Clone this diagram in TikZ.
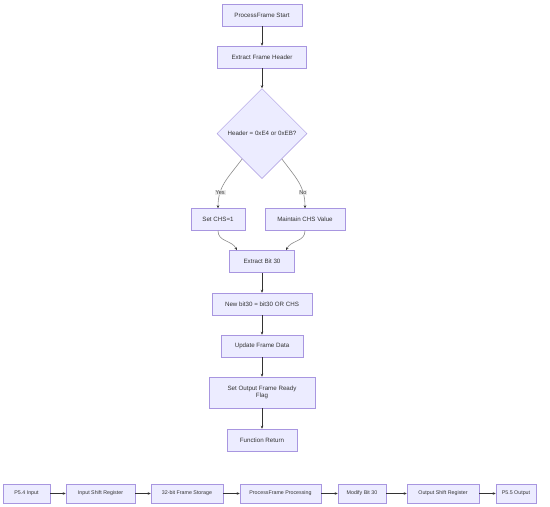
\documentclass[tikz,border=0pt]{standalone}
\usepackage{fontspec}
\setmainfont{Liberation Sans}
\usetikzlibrary{shapes.geometric,arrows.meta}
\definecolor{boxfill}{HTML}{ECECFF}
\definecolor{boxdraw}{HTML}{A896E0}
\definecolor{edge}{HTML}{333333}
\definecolor{lblfill}{HTML}{E8E8E8}
\begin{document}
\begin{tikzpicture}[x=1pt,y=-1pt,
  box/.style={draw=boxdraw,fill=boxfill,line width=0.5pt,inner sep=0pt,minimum height=22pt,font=\fontsize{6.2}{7.5}\selectfont,text=black!80,align=center},
  sbox/.style={box,minimum height=19pt,font=\fontsize{5.3}{6.5}\selectfont},
  dec/.style={diamond,draw=boxdraw,fill=boxfill,line width=0.5pt,inner sep=0pt,minimum width=90pt,minimum height=90pt,font=\fontsize{6.2}{7.5}\selectfont,text=black!80},
  arr/.style={draw=edge,line width=0.5pt,-{Stealth[length=3pt,width=2.6pt]}},
  garr/.style={draw=black!45,line width=0.6pt,-{Stealth[length=3pt,width=2.6pt,color=edge]}},
  lbl/.style={fill=lblfill,fill opacity=0.9,text opacity=1,inner sep=0.8pt,font=\fontsize{5.6}{6.5}\selectfont,text=black!75}]
\useasboundingbox (0,0) rectangle (550,507);
\fill[white] (0,0) rectangle (550,507);
% main flow
\node[box,minimum width=80pt] (s) at (262,15) {ProcessFrame Start};
\node[box,minimum width=89pt] (h) at (262,57) {Extract Frame Header};
\node[dec] (d) at (262,133.5) {Header = 0xE4 or 0xEB?};
\node[box,minimum width=54pt] (c1) at (218,219.5) {Set CHS=1};
\node[box,minimum width=80pt] (c0) at (305,219.5) {Maintain CHS Value};
\node[box,minimum width=65pt] (eb) at (262,261.5) {Extract Bit 30};
\node[box,minimum width=100pt] (nb) at (262,304) {New bit30 = bit30 OR CHS};
\node[box,minimum width=82pt] (uf) at (262,346) {Update Frame Data};
\node[box,minimum width=106pt,minimum height=31pt] (so) at (262,392.5) {Set Output Frame Ready\\Flag};
\node[box,minimum width=70pt] (fr) at (262,440) {Function Return};
% edges
\draw[arr] (s) -- (h);
\draw[arr] (h) -- (d);
\draw[garr] (d.-128) .. controls (228,178) and (218,186) .. node[lbl,pos=0.72]{Yes} (c1.north);
\draw[garr] (d.-52) .. controls (296,178) and (305,186) .. node[lbl,pos=0.72]{No} (c0.north);
\draw[garr] (c1.south) .. controls (218,242) and (232,240) .. (eb.north -| 237,0);
\draw[garr] (c0.south) .. controls (305,242) and (291,240) .. (eb.north -| 286,0);
\draw[arr] (eb) -- (nb);
\draw[arr] (nb) -- (uf);
\draw[arr] (uf) -- (so);
\draw[arr] (so) -- (fr);
% bottom row
\node[sbox,minimum width=47pt] (p4) at (26.5,493.5) {P5.4 Input};
\node[sbox,minimum width=69pt] (isr) at (100.5,493.5) {Input Shift Register};
\node[sbox,minimum width=72pt] (fs) at (187,493.5) {32-bit Frame Storage};
\node[sbox,minimum width=81pt] (pp) at (280.5,493.5) {ProcessFrame Processing};
\node[sbox,minimum width=48pt] (mb) at (362,493.5) {Modify Bit 30};
\node[sbox,minimum width=72pt] (osr) at (443,493.5) {Output Shift Register};
\node[sbox,minimum width=40pt] (p5) at (516,493.5) {P5.5 Output};
\draw[arr] (p4) -- (isr);
\draw[arr] (isr) -- (fs);
\draw[arr] (fs) -- (pp);
\draw[arr] (pp) -- (mb);
\draw[arr] (mb) -- (osr);
\draw[arr] (osr) -- (p5);
\end{tikzpicture}
\end{document}
